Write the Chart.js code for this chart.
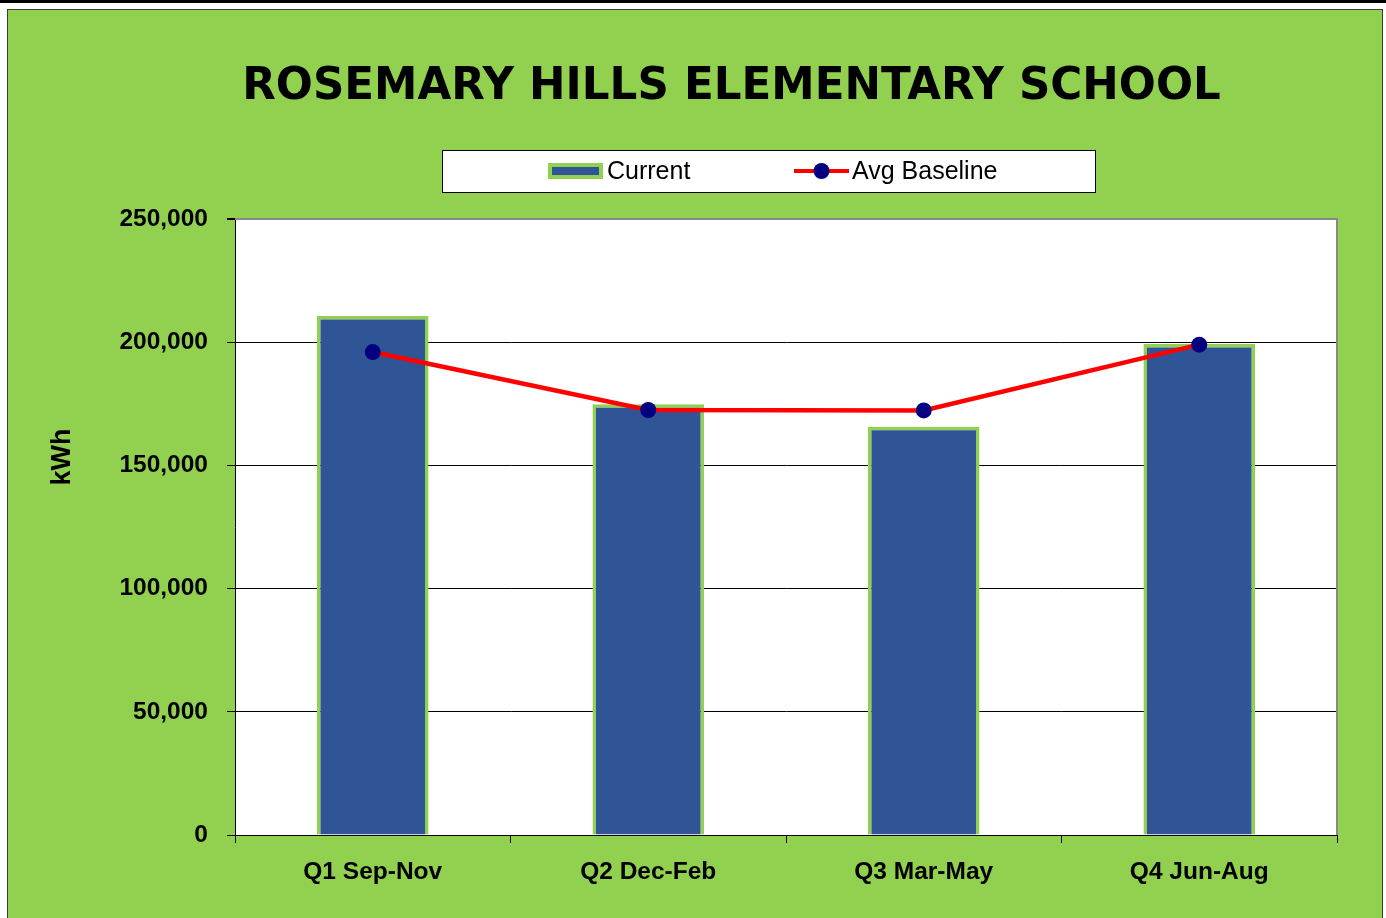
<!DOCTYPE html>
<html><head><meta charset="utf-8">
<script src="https://cdn.jsdelivr.net/npm/chart.js@4.4.1/dist/chart.umd.min.js"></script>
<style>
html,body{margin:0;padding:0;background:#fff;width:1386px;height:918px;overflow:hidden;position:relative}
#topbar{position:absolute;left:0;top:0;width:1386px;height:3px;background:#000}
#panel{position:absolute;left:7px;top:9px;width:1374px;height:915px;background:#92d050;border:1px solid #3a3a3a}
#wrap{position:absolute;left:0;top:0;width:1386px;height:918px}
</style></head><body>
<div id="topbar"></div><div id="panel"></div>
<div id="wrap"><canvas id="c" width="1386" height="918"></canvas></div>
<script>
const categories = ['Q1 Sep-Nov', 'Q2 Dec-Feb', 'Q3 Mar-May', 'Q4 Jun-Aug'];
const currentValues = [210600, 174800, 165700, 199300];
const baselineValues = [196000, 172500, 172300, 199000];
const yTicks = [0, 50000, 100000, 150000, 200000, 250000];
const seriesLabels = ['Current', 'Avg Baseline'];
const chartTitle = 'ROSEMARY HILLS ELEMENTARY SCHOOL';
const yAxisTitle = 'kWh';

const tickFont = {family: "'Liberation Sans', Arial, sans-serif", size: 24.5, weight: 'bold'};
const legendFont = "25px 'Liberation Sans', Arial, sans-serif";

const plotBg = {
  id: 'plotBg',
  beforeDraw(chart) {
    const {ctx, chartArea: a} = chart;
    ctx.save();
    ctx.fillStyle = '#fff';
    ctx.fillRect(a.left, a.top, a.right - a.left, a.bottom - a.top);
    ctx.restore();
  },
  beforeDatasetsDraw(chart) {
    const {ctx, chartArea: a} = chart;
    ctx.save();
    ctx.strokeStyle = '#888';
    ctx.lineWidth = 2;
    ctx.beginPath();
    ctx.moveTo(a.left, a.top);
    ctx.lineTo(a.right, a.top);
    ctx.lineTo(a.right, a.bottom);
    ctx.stroke();
    ctx.restore();
  }
};

const customLegend = {
  id: 'customLegend',
  afterDraw(chart) {
    const {ctx} = chart;
    const bar = chart.data.datasets.find(d => d.type === 'bar');
    const line = chart.data.datasets.find(d => d.type === 'line');
    ctx.save();
    ctx.fillStyle = '#fff';
    ctx.fillRect(442, 150, 653, 42);
    ctx.strokeStyle = '#000';
    ctx.lineWidth = 1;
    ctx.strokeRect(442.5, 150.5, 653, 42);
    const cy = 171;
    ctx.fillStyle = bar.borderColor;
    ctx.fillRect(548, cy - 8, 55, 16);
    ctx.fillStyle = bar.backgroundColor;
    ctx.fillRect(552, cy - 4, 47, 8);
    ctx.fillStyle = '#000';
    ctx.font = legendFont;
    ctx.textBaseline = 'middle';
    ctx.textAlign = 'left';
    ctx.fillText(bar.label, 607, cy + 1);
    ctx.strokeStyle = line.borderColor;
    ctx.lineWidth = 4;
    ctx.beginPath();
    ctx.moveTo(794, cy);
    ctx.lineTo(849, cy);
    ctx.stroke();
    ctx.fillStyle = line.pointBackgroundColor;
    ctx.beginPath();
    ctx.arc(821.5, cy, 8, 0, Math.PI * 2);
    ctx.fill();
    ctx.fillStyle = '#000';
    ctx.fillText(line.label, 852, cy + 1);
    ctx.translate(63, 457);
    ctx.rotate(-Math.PI / 2);
    ctx.textAlign = 'center';
    ctx.font = "bold 27px 'Liberation Sans', Arial, sans-serif";
    ctx.fillText(yAxisTitle, 0, 0);
    ctx.restore();
  }
};

new Chart(document.getElementById('c'), {
  data: {
    labels: categories,
    datasets: [
      {
        type: 'line', label: seriesLabels[1], data: baselineValues, order: 0,
        borderColor: '#ff0000', borderWidth: 4.5,
        pointRadius: 8, pointBackgroundColor: '#000080', pointBorderWidth: 0,
        pointBorderColor: '#000080', tension: 0
      },
      {
        type: 'bar', label: seriesLabels[0], data: currentValues, order: 1,
        backgroundColor: '#2f5597', borderColor: '#92d050', borderWidth: 3.5,
        barPercentage: 0.405, categoryPercentage: 1.0
      }
    ]
  },
  options: {
    responsive: false,
    animation: false,
    devicePixelRatio: 1,
    layout: {padding: {left: 100, right: 23, top: 0, bottom: 0}},
    plugins: {
      legend: {display: false},
      tooltip: {enabled: false},
      title: {
        display: true, text: chartTitle, color: '#000',
        font: {family: "'DejaVu Sans', sans-serif", size: 43.6, weight: 'bold'},
        padding: {top: 62, bottom: 104.7}
      }
    },
    scales: {
      x: {
        type: 'category',
        offset: true,
        grid: {offset: true, drawOnChartArea: false, drawTicks: true, tickLength: 8, color: '#000', tickColor: '#000'},
        border: {display: true, color: '#000', width: 1},
        ticks: {color: '#000', font: tickFont, padding: 15, maxRotation: 0, autoSkip: false},
        afterFit(scale) { scale.height = 83; }
      },
      y: {
        type: 'linear', position: 'left', min: 0, max: 250000,
        afterBuildTicks(scale) { scale.ticks = yTicks.map(v => ({value: v})); },
        grid: {
          color: c => (c.tick && c.tick.value === 250000) ? '#888' : '#000',
          lineWidth: c => (c.tick && c.tick.value === 250000) ? 2 : 1,
          tickColor: '#000', tickLength: 8, drawTicks: true
        },
        border: {display: true, color: '#000', width: 1},
        ticks: {color: '#000', font: tickFont, padding: 19, callback: v => v.toLocaleString('en-US')},
        afterFit(scale) { scale.width = 135; }
      },
      yRight: {
        type: 'linear', position: 'right', display: true, min: 0, max: 250000,
        grid: {display: false, drawTicks: false},
        border: {display: false},
        ticks: {display: false},
        afterFit(scale) { scale.width = 26; }
      }
    }
  },
  plugins: [plotBg, customLegend]
});
</script>
</body></html>
